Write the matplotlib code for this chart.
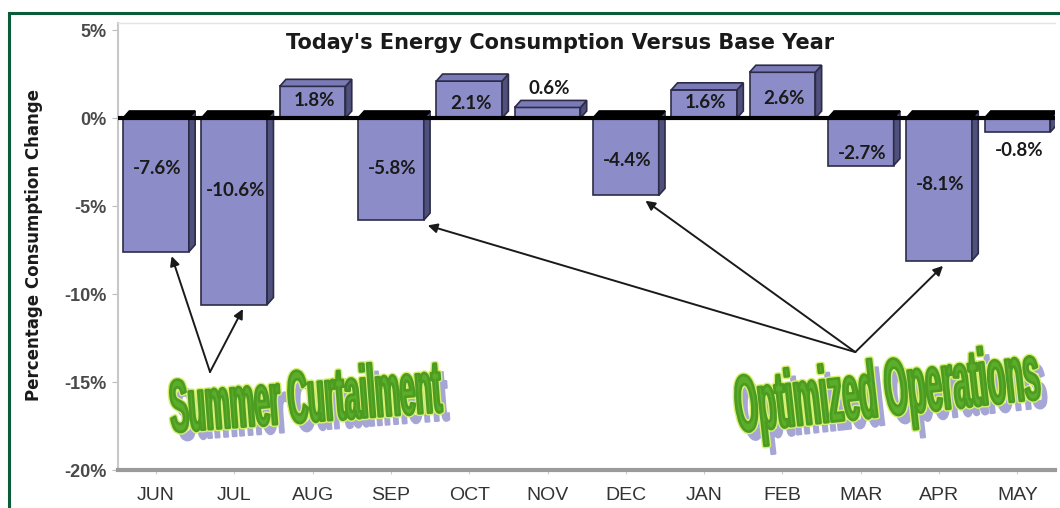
import numpy as np
import matplotlib
matplotlib.use('Agg')
import matplotlib.pyplot as plt
import matplotlib.colors as mcolors
from matplotlib import patheffects as pe
from matplotlib.patches import Polygon, Rectangle
from matplotlib.transforms import Affine2D

# data
months = ['JUN', 'JUL', 'AUG', 'SEP', 'OCT', 'NOV', 'DEC', 'JAN', 'FEB', 'MAR', 'APR', 'MAY']
values = [-7.6, -10.6, 1.8, -5.8, 2.1, 0.6, -4.4, 1.6, 2.6, -2.7, -8.1, -0.8]
labels = ['-7.6%', '-10.6%', '1.8%', '-5.8%', '2.1%', '0.6%', '-4.4%', '1.6%', '2.6%', '-2.7%', '-8.1%', '-0.8%']
label_y = [-2.84, -4.09, 0.97, -2.84, 0.85, 1.65, -2.39, 0.9, 1.13, -1.99, -3.8, -1.82]
yticks = [-20, -15, -10, -5, 0, 5]
ytick_labels = ['-20%', '-15%', '-10%', '-5%', '0%', '5%']

summer_idx = [0, 1]
summer_dx = [0.2, 0.11]
optim_idx = [3, 6, 10]
optim_dx = [0.47, 0.25, 0.05]

face = '#8c8cc8'
side_c = '#50507c'
top_c = '#7a7ab6'
edge = '#2c2c48'


class Squeezed(pe.AbstractPathEffect):
    # draws the text path stretched tall (condensed poster lettering)
    def __init__(self, sx, sy, offset=(0, 0), fill=None, **gc_kw):
        super().__init__(offset)
        self.sx, self.sy, self.fill, self.gc_kw = sx, sy, fill, gc_kw

    def draw_path(self, renderer, gc, tpath, affine, rgbFace=None):
        gc0 = renderer.new_gc()
        gc0.copy_properties(gc)
        gc0 = self._update_gc(gc0, self.gc_kw)
        fc = rgbFace if self.fill is None else mcolors.to_rgba(self.fill)
        tr = Affine2D().scale(self.sx, self.sy) + affine + self._offset_transform(renderer)
        renderer.draw_path(gc0, tpath, tr, fc)
        gc0.restore()


def poster_effects(sy):
    return [Squeezed(1, sy, offset=(5, -6), fill='#a6a6d6', foreground='#a6a6d6', linewidth=1.5),
            Squeezed(1, sy, fill='#d8f070', foreground='#d8f070', linewidth=4.0),
            Squeezed(1, sy, fill='#5cae2a', foreground='#4c9c22', linewidth=2.0)]


fig = plt.figure(figsize=(10.6, 5.08), dpi=100)
ax = fig.add_axes([118/1060, 38/508, 937/1060, 447/508])

x = np.arange(len(months))
w = 0.84
dx, dy = 0.08, 0.4

ax.bar(x, values, width=w, color=face, edgecolor=edge, linewidth=1.2, zorder=4)
for xi, v in zip(x, values):
    x0, x1 = xi - w/2, xi + w/2
    if v >= 0:
        top = Polygon([(x0, v), (x1, v), (x1+dx, v+dy), (x0+dx, v+dy)], fc=top_c, ec=edge, lw=1.2, zorder=4)
        side = Polygon([(x1, 0), (x1, v), (x1+dx, v+dy), (x1+dx, dy)], fc=side_c, ec=edge, lw=1.2, zorder=4)
    else:
        top = Polygon([(x0, 0), (x1, 0), (x1+dx, dy), (x0+dx, dy)], fc='black', ec='black', lw=1.2, zorder=4)
        side = Polygon([(x1, v), (x1, 0), (x1+dx, dy), (x1+dx, v+dy)], fc=side_c, ec=edge, lw=1.2, zorder=4)
    ax.add_patch(side)
    ax.add_patch(top)

ax.axhline(0, color='black', lw=3, zorder=5)

for xi, ly, lab in zip(x, label_y, labels):
    ax.text(xi + 0.02, ly, lab, ha='center', va='center', fontsize=13.5, fontweight='bold',
            family=['Lato', 'DejaVu Sans'], color='#1a1a1a', zorder=6)

# arrows
src = (0.69, -14.43)
for i, ddx in zip(summer_idx, summer_dx):
    ax.annotate('', xy=(i + ddx, values[i] - 0.25), xytext=src,
                arrowprops=dict(arrowstyle='-|>', color='#1a1a1a', lw=1.4, mutation_scale=14,
                                shrinkA=0, shrinkB=0), zorder=6)
src = (8.93, -13.3)
for i, ddx in zip(optim_idx, optim_dx):
    ax.annotate('', xy=(i + ddx, values[i] - 0.3), xytext=src,
                arrowprops=dict(arrowstyle='-|>', color='#1a1a1a', lw=1.4, mutation_scale=14,
                                shrinkA=0, shrinkB=0), zorder=6)

# poster lettering
t1 = ax.text(0.2, -17.84, 'Summer Curtailment', ha='left', va='baseline', rotation=4.3,
             rotation_mode='anchor', fontsize=19.9, fontweight='bold', family='Liberation Sans',
             color='#5cae2a', zorder=7)
t1.set_path_effects(poster_effects(2.68))
t2 = ax.text(7.43, -17.84, 'Optimized Operations', ha='left', va='baseline', rotation=6.3,
             rotation_mode='anchor', fontsize=21.2, fontweight='bold', family='Liberation Sans',
             color='#5cae2a', zorder=7)
t2.set_path_effects(poster_effects(2.72))

ax.set_xlim(-0.485, 11.48)
ax.set_ylim(-20, 5.4)
ax.set_xticks(x)
ax.set_xticklabels(months, fontsize=14, color='#333333', family='Liberation Sans')
ax.set_yticks(yticks)
ax.set_yticklabels(ytick_labels, fontsize=13, fontweight='bold', color='#4a4a4a', family='Liberation Sans')
ax.tick_params(axis='y', length=4, color='#bbbbbb', pad=4)
ax.tick_params(axis='x', length=3, color='#cccccc', pad=9)

ax.spines['right'].set_visible(False)
ax.spines['top'].set_color('#e4e4e4')
ax.spines['top'].set_linewidth(1)
ax.spines['left'].set_color('#c8c8c8')
ax.spines['left'].set_linewidth(1.5)
ax.spines['bottom'].set_color('#9a9a9a')
ax.spines['bottom'].set_linewidth(3)

fig.text(560/1060, 1 - 43/508, "Today's Energy Consumption Versus Base Year", ha='center', va='center',
         fontsize=15, fontweight='bold', family='DejaVu Sans', color='#1a1a1a')
fig.text(34/1060, 1 - 245/508, 'Percentage Consumption Change', ha='center', va='center',
         rotation=90, fontsize=12, fontweight='bold', family='DejaVu Sans', color='#1a1a1a')

# green frame
fig.add_artist(Rectangle((9/1060, -0.1), 1.2, 1 - 13/508 + 0.1, transform=fig.transFigure,
                         fill=False, ec='#0b5c3a', lw=2.2))

fig.savefig('out.png', dpi=100)
